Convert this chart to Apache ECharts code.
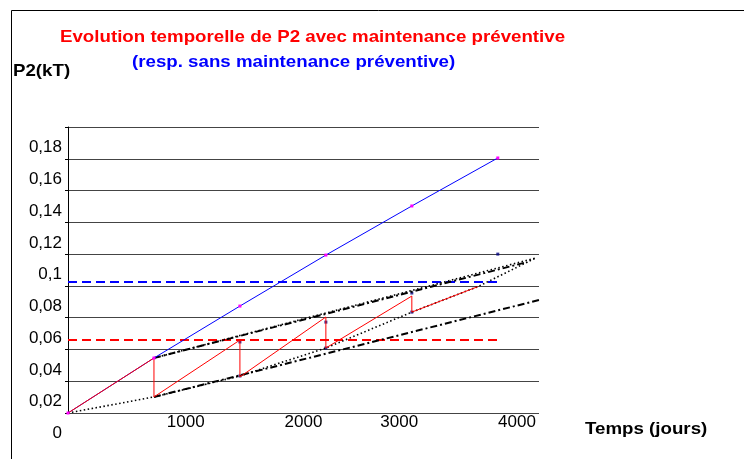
<!DOCTYPE html>
<html>
<head>
<meta charset="utf-8">
<script src="https://cdn.jsdelivr.net/npm/echarts@6/dist/echarts.min.js"></script>
<style>
  html, body { margin: 0; padding: 0; background: #fff; }
  #chart { width: 744px; height: 459px; }
</style>
</head>
<body>
<div id="chart"></div>
<script>
// P2 sans maintenance (bleu)
const tBleu = [0, 730, 1460, 2190, 2920, 3650];
const pBleu = [0, 0.0346, 0.0673, 0.0994, 0.1303, 0.1605];
// P2 avec maintenance préventive (rouge, dents de scie)
const tRouge = [0, 730, 730, 1460, 1460, 2190, 2190, 2920, 2920, 3480];
const pRouge = [0, 0.0346, 0.0101, 0.0459, 0.0227, 0.0604, 0.0409, 0.0736, 0.0635, 0.0795];
// enveloppe basse pointillée
const tEnvBas = [0, 730, 1460, 2190, 2920, 3480, 3970];
const pEnvBas = [0, 0.0101, 0.0233, 0.0409, 0.0635, 0.0795, 0.0975];
// droite haute pointillée
const tPointHaut = [730, 3970];
const pPointHaut = [0.0346, 0.0975];
// droites mixtes (tiret-point)
const tMixteHaut = [730, 3900];
const pMixteHaut = [0.0346, 0.0950];
const tMixteBas = [730, 4000];
const pMixteBas = [0.0101, 0.0711];
// seuils
const tSeuil = [0, 3650];
const seuilRouge = 0.0459;
const seuilBleu = 0.0824;
// petits points bleu foncé
const tPoints = [1460, 1460, 2190, 2190, 2920, 2920, 3650];
const pPoints = [0.0447, 0.0233, 0.0572, 0.0409, 0.0755, 0.0635, 0.1000];
// graduations
const yLabels = ["0", "0,02", "0,04", "0,06", "0,08", "0,1", "0,12", "0,14", "0,16", "0,18"];

const FONT = "'Liberation Sans', Arial, sans-serif";
const zip = (a, b) => a.map((v, i) => [v, b[i]]);

// texte un peu étiré en largeur, comme dans l'original
const label = (x, y, text, fill) => ({
  type: "text",
  x: x,
  y: y,
  scaleX: 1.1,
  style: {
    x: 0, y: 0, verticalAlign: "middle",
    text: text, font: "bold 17px " + FONT, fill: fill,
  },
});

const chart = echarts.init(document.getElementById("chart"));
const option = {
  animation: false,
  backgroundColor: "#fff",
  grid: { left: 68, right: 205, top: 127, bottom: 46 },
  graphic: [
    {
      type: "rect",
      shape: { x: 11.5, y: 10.5, width: 800, height: 500 },
      style: { fill: "none", stroke: "#000", lineWidth: 1 },
      silent: true,
    },
    label(60, 37, "Evolution temporelle de P2 avec maintenance préventive", "#ff0000"),
    label(132, 62, "(resp. sans maintenance préventive)", "#0000ff"),
    label(13, 71, "P2(kT)", "#000"),
    label(585, 429, "Temps (jours)", "#000"),
  ],
  xAxis: {
    type: "value",
    min: 0,
    max: 4000,
    interval: 1000,
    axisLine: { show: false },
    axisTick: { show: false },
    splitLine: { show: false },
    axisLabel: {
      margin: 1,
      fontSize: 17,
      fontFamily: FONT,
      color: "#000",
      formatter: (v) => {
        if (v === 0) return "";
        return v >= 3000 ? "{d|" + v + "}" : String(v);
      },
      rich: {
        d: { fontSize: 17, fontFamily: FONT, color: "#000", padding: [0, 44, 0, 0] },
      },
    },
  },
  yAxis: {
    type: "value",
    min: 0,
    max: 0.18,
    interval: 0.02,
    axisLine: { show: true, lineStyle: { color: "#000", width: 1 } },
    axisTick: { show: true, length: 3, lineStyle: { color: "#000" } },
    splitLine: { show: true, lineStyle: { color: "#444", width: 1 } },
    axisLabel: {
      margin: 6,
      fontSize: 17,
      fontFamily: FONT,
      color: "#000",
      verticalAlign: "top",
      padding: [12, 0, 0, 0],
      formatter: (v) => yLabels[Math.round(v / 0.02)],
    },
  },
  series: [
    {
      name: "seuil rouge",
      type: "line",
      data: zip(tSeuil, [seuilRouge, seuilRouge]),
      symbol: "none",
      lineStyle: { color: "#ff0000", width: 2, type: [9, 5] },
    },
    {
      name: "seuil bleu",
      type: "line",
      data: zip(tSeuil, [seuilBleu, seuilBleu]),
      symbol: "none",
      lineStyle: { color: "#0000ff", width: 2, type: [9, 5] },
    },
    {
      name: "enveloppe basse",
      type: "line",
      data: zip(tEnvBas, pEnvBas),
      symbol: "none",
      lineStyle: { color: "#000", width: 1.6, type: [1.5, 2.5] },
    },
    {
      name: "droite haute",
      type: "line",
      data: zip(tPointHaut, pPointHaut),
      symbol: "none",
      lineStyle: { color: "#000", width: 1.6, type: [1.5, 2.5] },
    },
    {
      name: "mixte haut",
      type: "line",
      data: zip(tMixteHaut, pMixteHaut),
      symbol: "none",
      lineStyle: { color: "#000", width: 2, type: [7, 3, 2, 3] },
    },
    {
      name: "mixte bas",
      type: "line",
      data: zip(tMixteBas, pMixteBas),
      symbol: "none",
      lineStyle: { color: "#000", width: 2, type: [7, 3, 2, 3] },
    },
    {
      name: "sans maintenance",
      type: "line",
      data: zip(tBleu, pBleu),
      symbol: "rect",
      symbolSize: 3,
      itemStyle: { color: "#ff00ff" },
      lineStyle: { color: "#0000ff", width: 1 },
    },
    {
      name: "avec maintenance",
      type: "line",
      data: zip(tRouge, pRouge),
      symbol: "none",
      lineStyle: { color: "#ff0000", width: 1 },
    },
    {
      name: "points",
      type: "scatter",
      data: zip(tPoints, pPoints),
      symbol: "rect",
      symbolSize: 3,
      itemStyle: { color: "#000080" },
    },
  ],
};
chart.setOption(option);
</script>
</body>
</html>
